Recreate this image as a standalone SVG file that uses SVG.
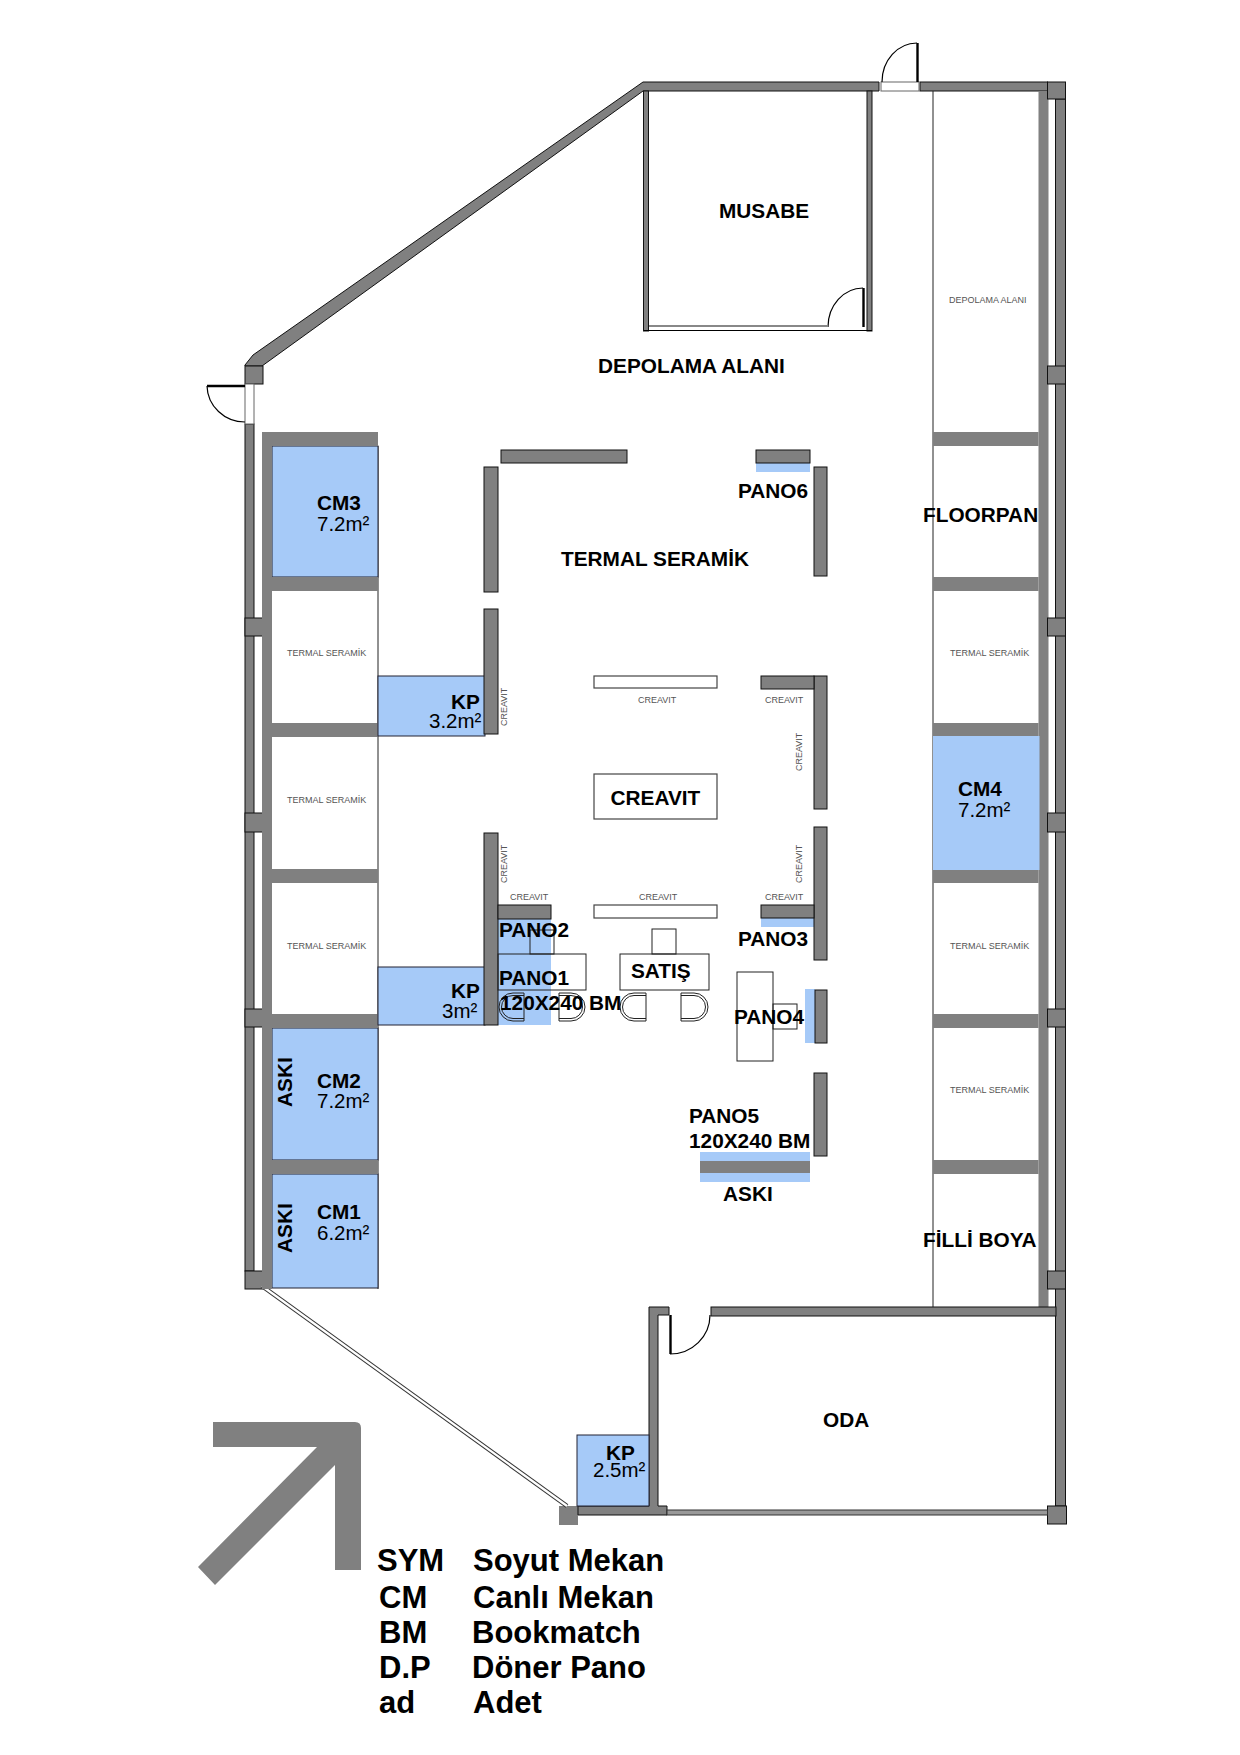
<svg xmlns="http://www.w3.org/2000/svg" width="1240" height="1755" viewBox="0 0 1240 1755">
<style>
text{font-family:"Liberation Sans",Arial,sans-serif;fill:#000}
.b{font-weight:700;font-size:20.8px}
.r{font-size:20.5px}
.s{font-size:9px;fill:#555}
.l{font-weight:700;font-size:31px}
.w{fill:#808080;stroke:#111;stroke-width:1}
.g{fill:#808080}
.bl{fill:#a6caf8}
.bs{fill:#a6caf8;stroke:#223;stroke-width:1}
.o{fill:none;stroke:#222;stroke-width:1}
.wo{fill:#fff;stroke:#444;stroke-width:1.2}
.d{fill:none;stroke:#000;stroke-width:1.2}
.lf{stroke:#000;stroke-width:2.4;fill:none}
.j{fill:#fff;stroke:#666;stroke-width:1}
</style>
<rect width="1240" height="1755" fill="#fff"/>

<g id="shell">
<path class="w" d="M245,366 L245,365 L253,355 L643,82 L879,82 L879,91 L643,91 L262,366 Z"/>
<rect class="w" x="920" y="82" width="127.500" height="9"/>
<rect class="w" x="1055.500" y="99" width="10" height="1407"/>
<rect class="g" x="1038.500" y="91" width="10" height="1216"/>
<rect class="w" x="245" y="424" width="9" height="847"/>
<rect class="w" x="245" y="366" width="18" height="18"/>
<rect class="w" x="1047.500" y="82" width="18" height="17"/>
<rect class="w" x="1047.500" y="366" width="18" height="18"/>
<rect class="w" x="245" y="618" width="18" height="18"/>
<rect class="w" x="1047.500" y="618" width="18" height="18"/>
<rect class="w" x="245" y="813" width="18" height="19"/>
<rect class="w" x="1047.500" y="813" width="18" height="19"/>
<rect class="w" x="245" y="1009" width="18" height="18"/>
<rect class="w" x="1047.500" y="1009" width="18" height="18"/>
<rect class="w" x="245" y="1271" width="18" height="18"/>
<rect class="w" x="1047.500" y="1271" width="18" height="18"/>
<rect class="g" x="559" y="1506" width="19" height="19"/>
<rect class="w" x="1047.500" y="1506" width="19" height="18"/>
<line class="o" x1="933" y1="91" x2="933" y2="1307"/>
<line class="o" x1="378" y1="446" x2="378" y2="1289"/>
<path d="M262,1286 L567,1506" fill="none" stroke="#333" stroke-width="4.4"/>
<path d="M262,1286 L567,1506" fill="none" stroke="#fff" stroke-width="2.4"/>
</g>

<g id="doors">
<rect class="j" x="245" y="384" width="9" height="40"/>
<path class="lf" d="M207,386 H245"/>
<path class="d" d="M207,386 A38,37 0 0 0 245,422"/>
<rect class="j" x="881" y="82" width="38" height="9"/>
<path class="lf" d="M917.5,43 V82"/>
<path class="d" d="M917,43 A35,39 0 0 0 882,82"/>
<path class="lf" d="M863.5,288 V327"/>
<path class="d" d="M863,288 A35,39 0 0 0 828,327"/>
<path class="lf" d="M670.5,1315 V1354"/>
<path class="d" d="M670,1354 A40,39 0 0 0 710,1315"/>
</g>

<g id="musabe">
<rect class="w" x="643.5" y="91" width="5" height="240"/>
<rect class="w" x="867" y="91" width="5" height="240"/>
<path d="M649,326 H828" stroke="#888" stroke-width="2"/>
<path d="M644,330.5 H872" stroke="#000" stroke-width="1.2"/>
<text class="b" x="719" y="218">MUSABE</text>
</g>

<g id="oda">
<path class="w" d="M649,1307 H669 V1315 H658 V1506 H667 V1515 H578 V1506 H649 Z"/>
<rect class="w" x="711" y="1307" width="345" height="9"/>
<rect x="667" y="1510" width="380.500" height="5" fill="#999" stroke="#333" stroke-width="1"/>
<text class="b" x="823" y="1427">ODA</text>
</g>

<g id="bays-left">
<rect class="bs" x="272" y="446" width="106" height="131"/>
<rect class="bs" x="272" y="1028" width="106" height="132"/>
<rect class="bs" x="272" y="1174" width="106" height="114"/>
<rect class="g" x="262" y="432" width="10" height="857"/>
<rect class="g" x="262" y="432" width="116" height="14"/>
<rect class="g" x="262" y="577" width="116" height="14"/>
<rect class="g" x="262" y="723" width="116" height="14"/>
<rect class="g" x="262" y="869" width="116" height="14"/>
<rect class="g" x="262" y="1014" width="116" height="14"/>
<rect class="g" x="262" y="1160" width="116" height="14"/>
<text class="b" x="317" y="510">CM3</text><text class="r" x="317" y="531">7.2m²</text>
<text class="s" x="287" y="656">TERMAL SERAMİK</text>
<text class="s" x="287" y="803">TERMAL SERAMİK</text>
<text class="s" x="287" y="949">TERMAL SERAMİK</text>
<text class="b" x="317" y="1088">CM2</text><text class="r" x="317" y="1108">7.2m²</text>
<text class="b" x="317" y="1219">CM1</text><text class="r" x="317" y="1240">6.2m²</text>
<text class="b" transform="translate(292,1107) rotate(-90)">ASKI</text>
<text class="b" transform="translate(292,1253) rotate(-90)">ASKI</text>
</g>

<g id="bays-right">
<rect class="bl" x="933" y="736" width="106.500" height="134"/>
<rect class="g" x="933" y="432" width="105.500" height="14"/>
<rect class="g" x="933" y="577" width="105.500" height="14"/>
<rect class="g" x="933" y="723" width="105.500" height="13"/>
<rect class="g" x="933" y="870" width="105.500" height="13"/>
<rect class="g" x="933" y="1014" width="105.500" height="14"/>
<rect class="g" x="933" y="1160" width="105.500" height="14"/>
<text class="s" x="949" y="303">DEPOLAMA ALANI</text>
<text class="b" x="923" y="522">FLOORPAN</text>
<text class="s" x="950" y="656">TERMAL SERAMİK</text>
<text class="b" x="958" y="796">CM4</text><text class="r" x="958" y="817">7.2m²</text>
<text class="s" x="950" y="949">TERMAL SERAMİK</text>
<text class="s" x="950" y="1093">TERMAL SERAMİK</text>
<text class="b" x="923" y="1247">FİLLİ BOYA</text>
</g>

<g id="kp">
<rect class="bs" x="378" y="676" width="107" height="60"/>
<text class="b" x="451" y="709">KP</text><text class="r" x="429" y="728">3.2m²</text>
<rect class="bs" x="378" y="967" width="107" height="58"/>
<text class="b" x="451" y="998">KP</text><text class="r" x="442" y="1018">3m²</text>
<rect class="bs" x="577" y="1435" width="72" height="71"/>
<text class="b" x="606" y="1460">KP</text><text class="r" x="593" y="1477">2.5m²</text>
</g>

<g id="panels">
<rect class="bl" x="498" y="919" width="53" height="106"/>
<rect class="bl" x="756" y="463" width="54" height="9"/>
<rect class="bl" x="761" y="918" width="53" height="9"/>
<rect class="bl" x="805" y="989" width="10" height="54"/>
<rect class="bl" x="700" y="1152" width="110" height="30"/>
<rect class="g" x="700" y="1161" width="110" height="12"/>
<rect class="w" x="501" y="450" width="126" height="13"/>
<rect class="w" x="484" y="467" width="14" height="125"/>
<rect class="w" x="484" y="609" width="14" height="125"/>
<rect class="w" x="484" y="833" width="14" height="192"/>
<rect class="w" x="814" y="467" width="13" height="109"/>
<rect class="w" x="814" y="676" width="13" height="133"/>
<rect class="w" x="814" y="827" width="13" height="133"/>
<rect class="w" x="815" y="990" width="12" height="53"/>
<rect class="w" x="814" y="1073" width="13" height="83"/>
<rect class="w" x="756" y="450" width="54" height="13"/>
<rect class="w" x="761" y="676" width="53" height="13"/>
<rect class="w" x="761" y="905" width="53" height="13"/>
<rect class="w" x="498" y="905" width="53" height="14"/>
<rect class="wo" x="594" y="676" width="123" height="12"/>
<rect class="wo" x="594" y="905" width="123" height="13"/>
<rect class="wo" x="594" y="774" width="123" height="45"/>
<text class="b" x="610.5" y="805">CREAVIT</text>
<text class="s" x="638" y="703">CREAVIT</text>
<text class="s" x="765" y="703">CREAVIT</text>
<text class="s" x="639" y="900">CREAVIT</text>
<text class="s" x="510" y="900">CREAVIT</text>
<text class="s" x="765" y="900">CREAVIT</text>
<text class="s" transform="translate(507,726) rotate(-90)">CREAVIT</text>
<text class="s" transform="translate(507,883) rotate(-90)">CREAVIT</text>
<text class="s" transform="translate(802,771) rotate(-90)">CREAVIT</text>
<text class="s" transform="translate(802,883) rotate(-90)">CREAVIT</text>
</g>

<g id="desks">
<rect class="o" x="530" y="930" width="24" height="24"/>
<rect class="o" x="498" y="954" width="88" height="36"/>
<rect class="o" x="652" y="929" width="24" height="25"/>
<rect class="o" x="620" y="954" width="89" height="36"/>
<rect class="o" x="737" y="972" width="36" height="89"/>
<rect class="o" x="773" y="1004" width="24" height="25"/>
<path class="o" d="M524,993 H513 A14,14 0 0 0 513,1021 H524 Z M524,995.5 H513 A11.5,11.5 0 0 0 513,1018.5 H524"/>
<path class="o" d="M559,993 H571 A14,14 0 0 1 571,1021 H559 Z M559,995.5 H571 A11.5,11.5 0 0 1 571,1018.5 H559"/>
<path class="o" d="M646,993 H634 A14,14 0 0 0 634,1021 H646 Z M646,995.5 H634 A11.5,11.5 0 0 0 634,1018.5 H646"/>
<path class="o" d="M681,993 H694 A14,14 0 0 1 694,1021 H681 Z M681,995.5 H694 A11.5,11.5 0 0 1 694,1018.5 H681"/>
</g>

<g id="labels">
<text class="b" x="598" y="373">DEPOLAMA ALANI</text>
<text class="b" x="738" y="498">PANO6</text>
<text class="b" x="561" y="566">TERMAL SERAMİK</text>
<text class="b" x="499" y="937">PANO2</text>
<text class="b" x="499" y="985">PANO1</text>
<text class="b" x="500" y="1010">120X240 BM</text>
<text class="b" x="631" y="978">SATIŞ</text>
<text class="b" x="738" y="946">PANO3</text>
<text class="b" x="734" y="1024">PANO4</text>
<text class="b" x="689" y="1123">PANO5</text>
<text class="b" x="689" y="1148">120X240 BM</text>
<text class="b" x="723" y="1201">ASKI</text>
</g>

<g id="north-arrow">
<path class="g" d="M213,1422 H355 Q361,1422 361,1428 V1570 H335 V1465 L215,1585 L198,1567 L317,1447 H213 Z"/>
</g>

<g id="legend">
<text class="l" x="377" y="1571">SYM</text><text class="l" x="473" y="1571">Soyut Mekan</text>
<text class="l" x="379" y="1608">CM</text><text class="l" x="473" y="1608">Canlı Mekan</text>
<text class="l" x="379" y="1643">BM</text><text class="l" x="472" y="1643">Bookmatch</text>
<text class="l" x="379" y="1678">D.P</text><text class="l" x="472" y="1678">Döner Pano</text>
<text class="l" x="379" y="1713">ad</text><text class="l" x="473" y="1713">Adet</text>
</g>
</svg>
